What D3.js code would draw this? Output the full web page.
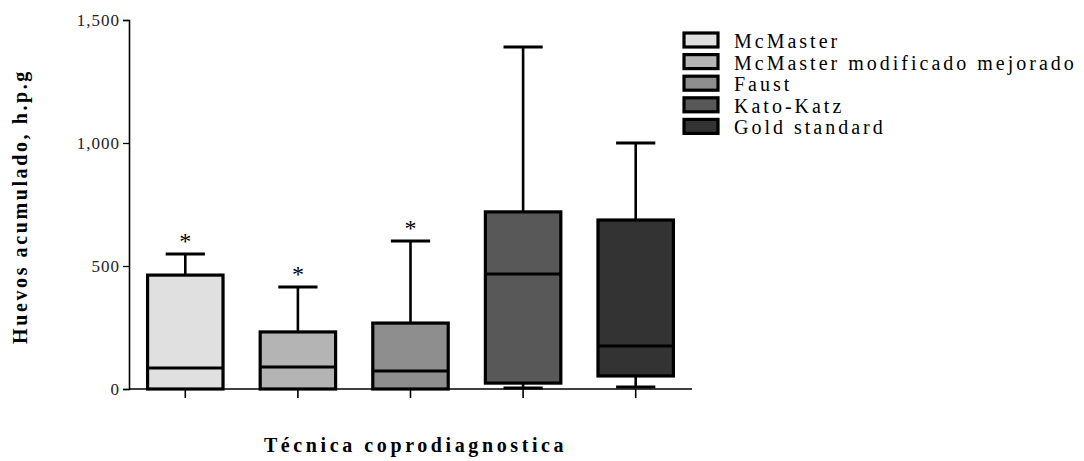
<!DOCTYPE html>
<html>
<head>
<meta charset="utf-8">
<script src="https://cdn.jsdelivr.net/npm/d3@7"></script>
<style>
  body { margin: 0; background: #fff; }
  svg { display: block; }
  svg text { font-family: "Times New Roman", "Liberation Serif", "DejaVu Serif", serif; }
  .tick text { font-size: 17px; fill: #222; letter-spacing: 1px; }
</style>
</head>
<body>
<div id="chart"></div>
<script>
// data (h.p.g)
const techniques = ["McMaster", "McMaster modificado mejorado", "Faust", "Kato-Katz", "Gold standard"];
const whiskerLow = [0, 0, 0, 4, 8];
const q1 = [0, 0, 0, 24, 53];
const medians = [85, 89, 73, 467, 175];
const q3 = [463, 232, 268, 720, 687];
const whiskerHigh = [549, 415, 602, 1390, 1000];
const significant = [true, true, true, false, false];
const fills = ["#e0e0e0", "#b4b4b4", "#8e8e8e", "#585858", "#333333"];
const yTicks = [0, 500, 1000, 1500];

const W = 1084, H = 461;
const margin = {top: 20, right: 392, bottom: 72, left: 129};
const width = W - margin.left - margin.right;
const height = H - margin.top - margin.bottom;

const svg = d3.select("#chart").append("svg")
    .attr("width", W)
    .attr("height", H);

const g = svg.append("g")
    .attr("transform", "translate(" + margin.left + "," + margin.top + ")");

const x = d3.scaleBand()
    .domain(techniques)
    .range([0, width])
    .paddingInner(0.33)
    .paddingOuter(0.165);
const y = d3.scaleLinear()
    .domain([0, 1500])
    .range([height, 0]);

const boxes = techniques.map((t, i) => ({
  name: t, lo: whiskerLow[i], q1: q1[i], med: medians[i], q3: q3[i], hi: whiskerHigh[i],
  star: significant[i], fill: fills[i]
}));

// axes
const yAxis = d3.axisLeft(y).tickValues(yTicks).tickSize(6).tickPadding(3).tickFormat(d3.format(","));
g.append("g").attr("class", "y-axis").call(yAxis)
  .call(a => a.attr("font-family", null))
  .call(a => a.select(".domain").attr("stroke-width", 1.6))
  .call(a => a.selectAll(".tick line").attr("stroke-width", 1.3));

const xAxis = d3.axisBottom(x).tickSize(9).tickFormat("");
g.append("g").attr("class", "x-axis")
  .attr("transform", "translate(0," + height + ")")
  .call(xAxis)
  .call(a => a.select(".domain").attr("d", "M0,0H" + width).attr("stroke-width", 1.6))
  .call(a => a.selectAll(".tick line").attr("stroke-width", 1.6));

const cx = d => x(d.name) + x.bandwidth() / 2;
const capW = x.bandwidth() * 0.52;

const box = g.selectAll(".box").data(boxes).enter().append("g").attr("class", "box");

// whiskers
box.append("line")
  .attr("x1", cx).attr("x2", cx)
  .attr("y1", d => y(d.hi)).attr("y2", d => y(d.q3))
  .attr("stroke", "#000").attr("stroke-width", 2.6);
box.filter(d => d.lo < d.q1).append("line")
  .attr("x1", cx).attr("x2", cx)
  .attr("y1", d => y(d.q1)).attr("y2", d => y(d.lo))
  .attr("stroke", "#000").attr("stroke-width", 2.6);
box.append("line")
  .attr("x1", d => cx(d) - capW / 2).attr("x2", d => cx(d) + capW / 2)
  .attr("y1", d => y(d.hi)).attr("y2", d => y(d.hi))
  .attr("stroke", "#000").attr("stroke-width", 3);
box.filter(d => d.lo < d.q1).append("line")
  .attr("x1", d => cx(d) - capW / 2).attr("x2", d => cx(d) + capW / 2)
  .attr("y1", d => y(d.lo)).attr("y2", d => y(d.lo))
  .attr("stroke", "#000").attr("stroke-width", 3);

// boxes
box.append("rect")
  .attr("x", d => x(d.name))
  .attr("y", d => y(d.q3))
  .attr("width", x.bandwidth())
  .attr("height", d => y(d.q1) - y(d.q3))
  .attr("fill", d => d.fill)
  .attr("stroke", "#000").attr("stroke-width", 3.2);
box.append("line")
  .attr("x1", d => x(d.name)).attr("x2", d => x(d.name) + x.bandwidth())
  .attr("y1", d => y(d.med)).attr("y2", d => y(d.med))
  .attr("stroke", "#000").attr("stroke-width", 3);

// significance stars
box.filter(d => d.star).append("text")
  .attr("x", cx)
  .attr("y", d => y(d.hi) - 5)
  .attr("text-anchor", "middle")
  .attr("font-size", 24)
  .text("*");

// axis titles
svg.append("text")
  .attr("transform", "translate(27," + (margin.top + height / 2 + 2) + ") rotate(-90)")
  .attr("text-anchor", "middle")
  .attr("font-weight", "bold")
  .attr("font-size", 20)
  .attr("letter-spacing", 2.6)
  .text("Huevos acumulado, h.p.g");

svg.append("text")
  .attr("x", margin.left + width / 2 + 5)
  .attr("y", 452)
  .attr("text-anchor", "middle")
  .attr("font-weight", "bold")
  .attr("font-size", 20)
  .attr("letter-spacing", 3.6)
  .text("Técnica coprodiagnostica");

// legend
const legend = svg.append("g").attr("transform", "translate(684,33)");
const item = legend.selectAll(".item").data(boxes).enter().append("g")
  .attr("transform", (d, i) => "translate(0," + i * 21.6 + ")");
item.append("rect")
  .attr("width", 34).attr("height", 14)
  .attr("fill", d => d.fill)
  .attr("stroke", "#000").attr("stroke-width", 3.2);
item.append("text")
  .attr("x", 50).attr("y", 15)
  .attr("font-size", 20)
  .attr("letter-spacing", 3)
  .text(d => d.name);
</script>
</body>
</html>
